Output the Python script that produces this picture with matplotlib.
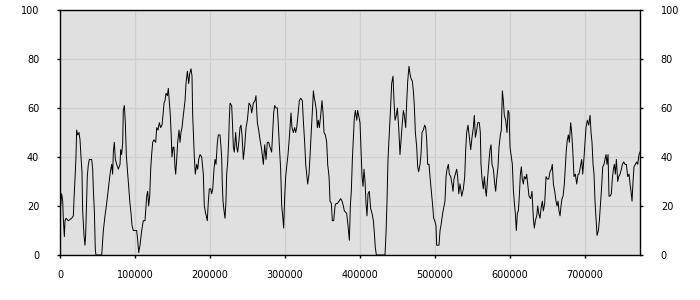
import numpy as np
import matplotlib
matplotlib.use('Agg')
import matplotlib.pyplot as plt

# sample positions (in thousands) and values
seg1_x = [0, 0.9, 2.2, 3.6, 4.4, 5.8, 6.7, 8, 11.1, 15.6,
          17.8, 18.7, 20, 21.3, 22.2, 23.6, 25.3, 26.7, 28, 29.3,
          30.2, 32, 33.3, 34.2, 35.6, 36.4, 37.8, 39.1, 42.2, 43.6,
          44.4, 45.8, 47.1, 48, 55.6, 57.8, 60, 62.2, 64.4, 66.7,
          68.9, 70.2, 71.1, 72.4, 73.8, 75.6, 77.8, 80, 80.9, 82.2,
          83.6, 84.4, 85.8, 87.1, 88.4, 89.8, 91.6, 93.3, 94.7, 96,
          97.8, 102.2, 103.6, 104.9, 106.7, 108.9, 111.1, 113.3, 114.7, 115.6,
          116.9, 118.2, 119.6, 120.9, 122.2, 123.6, 125.3, 127.6, 128.9, 130.7,
          132.4, 134.2, 136, 137.3, 138.7, 140, 141.3, 143.1, 144.4, 145.8,
          147.1, 148.4, 149.3, 150.7, 152, 153.3, 154.2, 155.6, 156.9, 158.7,
          160, 161.3, 162.7, 164.4, 166.7, 168, 169.8, 171.6, 172.9, 174.7,
          176, 176.9, 177.8, 179.1, 180.4, 182.2, 183.6, 184.9, 186.7, 188.9,
          191.1, 192.4, 194.2, 196.4, 197.8, 199.1, 200.9, 202.2, 203.6, 205.3,
          206.7, 208, 209.8, 211.1, 213.3, 214.7, 215.6, 216.4, 217.3, 218.7,
          220, 221.3, 222.2, 223.6, 224.9, 225.8]
seg1_y = [24, 20, 25, 22, 15, 7.5, 14, 15, 14, 15,
          16, 23, 31, 40, 51, 49, 50, 47, 40, 34,
          18, 8, 4, 8, 24, 32, 37, 39, 39, 35,
          27, 18, 2, 0, 0, 10, 16, 21, 27, 33,
          37, 33, 42, 46, 39, 37, 35, 37, 43, 41,
          46, 59, 61, 54, 41, 35, 28, 21, 17, 12,
          10, 10, 6, 1, 4, 10, 14, 14, 20, 24,
          26, 20, 24, 35, 41, 46, 47, 46, 52, 51,
          54, 52, 53, 57, 62, 63, 66, 65, 68, 62,
          57, 48, 40, 44, 44, 36, 33, 39, 46, 51,
          46, 50, 52, 57, 63, 70, 75, 70, 74, 76,
          73, 57, 50, 40, 33, 37, 35, 39, 41, 40,
          33, 20, 17, 14, 22, 27, 27, 25, 27, 35,
          39, 37, 46, 49, 49, 44, 39, 29, 22, 18,
          15, 22, 33, 38, 47, 56]

seg2_x = [226.7, 228.9, 230.2, 231.1, 232.4, 234.2, 235.6, 236.9, 238.7, 240,
          241.3, 242.7, 244.4, 246.2, 248, 249.8, 252, 254.2, 255.6, 257.8,
          260, 261.3, 263.1, 264.9, 266.7, 268.9, 271.1, 272.9, 274.7, 276.4,
          278.2, 280, 282.2, 283.6, 284.9, 286.2, 288, 289.8, 291.1, 292.4,
          294.2, 295.6, 296.9, 298.2, 299.6, 300.9, 302.2, 304, 305.8, 308,
          309.3, 311.1, 312.9, 314.2, 315.6, 317.3, 319.1, 320.9, 323.1, 324.4,
          326.2, 327.6, 328.9, 330.2, 332, 333.3, 335.1, 336.9, 337.8, 339.1,
          340.4, 341.8, 343.1, 344.4, 345.8, 347.6, 349.3, 350.7, 352, 353.8,
          355.6, 356.9, 358.7, 360, 361.8, 363.1, 364.9, 366.7, 368, 369.8,
          372, 374.2, 376, 377.8, 379.1, 382.2, 384, 385.8, 387.1, 388.4,
          389.8, 391.1, 392.4, 393.8, 395.6, 396.9, 398.2, 400, 401.3, 402.7,
          404, 405.3, 406.7, 408, 409.3, 410.7, 412.4, 414.2, 416, 417.8,
          419.1, 420.4, 421.8, 433.3, 434.7, 436, 437.3, 439.1, 440.9, 442.2,
          444, 445.3, 446.7, 448.4, 449.8, 451.6, 453.3, 454.7, 456.4, 457.8,
          459.1, 460.9, 462.2, 463.6, 465.3, 466.7, 468, 469.8, 471.1, 472.4,
          473.8, 475.6, 476.9, 478.2, 480, 481.3, 482.7, 484.4, 486.2, 487.6,
          488.9, 490.2, 492, 493.3, 495.1, 496.9, 498.2, 499.6, 501.3, 502.2,
          505.3, 506.7, 508.4, 510.2, 512, 513.3, 514.7, 516, 517.8, 519.1,
          520.9, 522.7, 524, 525.3, 527.1, 528.9, 530.2, 531.6]
seg2_y = [62, 61, 52, 44, 42, 50, 44, 42, 47, 52,
          53, 49, 39, 44, 52, 55, 62, 61, 58, 62,
          63, 65, 54, 51, 47, 43, 37, 45, 39, 46,
          46, 44, 42, 50, 58, 61, 60, 60, 53, 45,
          35, 20, 16, 11, 24, 32, 36, 41, 48, 58,
          52, 50, 52, 50, 52, 57, 63, 64, 63, 55,
          46, 37, 33, 29, 33, 40, 51, 61, 67, 64,
          62, 59, 52, 55, 52, 57, 63, 58, 50, 49,
          46, 37, 32, 22, 21, 14, 14, 20, 21, 21,
          22, 23, 22, 20, 18, 17, 12, 6, 20, 26,
          39, 48, 56, 59, 55, 59, 57, 54, 43, 32,
          28, 35, 30, 21, 16, 25, 26, 19, 17, 14,
          9, 3, 0, 0, 9, 22, 39, 50, 61, 70,
          73, 63, 55, 57, 60, 52, 41, 47, 54, 59,
          57, 52, 62, 71, 77, 74, 72, 71, 67, 61,
          50, 44, 36, 34, 37, 41, 50, 51, 53, 52,
          47, 37, 37, 32, 26, 20, 15, 14, 12, 4,
          4, 10, 13, 17, 20, 22, 32, 35, 37, 33,
          32, 29, 26, 31, 33, 35, 32, 25]

seg3_x = [533.3, 535.6, 537.8, 539.6, 540.9, 542.2, 544, 545.8, 547.6, 549.3,
          551.1, 552.4, 553.8, 555.1, 556.9, 559.1, 560.4, 561.3, 562.7, 564.4,
          565.8, 567.1, 568.4, 569.8, 571.6, 573.3, 574.7, 576, 577.8, 579.6,
          580.9, 582.2, 584, 585.3, 587.1, 588.4, 589.8, 591.1, 592.4, 594.2,
          596, 597.3, 598.7, 600, 601.3, 603.1, 604.4, 605.8, 607.1, 608.4,
          609.8, 611.1, 612.4, 613.8, 615.1, 616.4, 617.8, 619.1, 620.9, 622.2,
          624, 625.3, 627.6, 629.3, 631.1, 632.4, 633.8, 635.6, 636.9, 638.2,
          640, 641.3, 643.1, 644.4, 646.2, 648, 649.8, 651.6, 653.3, 655.1,
          656.4, 657.8, 659.6, 661.3, 662.7, 664, 665.3, 666.7, 668, 669.3,
          670.7, 672.4, 673.8, 675.1, 676.4, 677.8, 679.1, 680.9, 682.2, 683.6,
          685.3, 687.1, 688.9, 690.7, 692, 693.8, 695.6, 696.9, 698.7, 700,
          701.3, 703.1, 704.9, 706.7, 708, 709.3, 710.7, 712, 713.3, 714.7,
          716, 717.8, 719.1, 720.9, 722.2, 723.6, 725.3, 726.7, 728, 729.3,
          730.7, 732, 733.3, 735.1, 736.4, 737.8, 739.1, 740.4, 741.8, 743.6,
          744.9, 746.7, 748.4, 749.8, 751.6, 753.3, 755.1, 756.9, 758.7, 760,
          761.3, 762.7, 764, 765.3, 767.1, 768.9, 770.2, 772, 773.3]
seg3_y = [29, 24, 27, 32, 43, 50, 53, 48, 43, 48,
          52, 57, 48, 50, 54, 54, 50, 37, 31, 27,
          32, 27, 24, 30, 37, 43, 45, 37, 35, 29,
          26, 31, 36, 44, 49, 51, 67, 63, 57, 55,
          50, 59, 58, 44, 41, 37, 27, 21, 17, 10,
          17, 18, 24, 33, 36, 31, 29, 32, 31, 33,
          28, 24, 23, 26, 15, 11, 14, 16, 20, 17,
          15, 19, 22, 18, 21, 32, 31, 31, 34, 35,
          37, 29, 26, 22, 20, 22, 18, 16, 20, 23,
          24, 29, 36, 43, 47, 49, 46, 54, 50, 43,
          32, 33, 29, 33, 33, 36, 39, 33, 40, 46,
          52, 55, 53, 57, 50, 46, 37, 33, 22, 15,
          8, 10, 14, 22, 28, 36, 37, 39, 41, 37,
          41, 24, 24, 25, 31, 35, 37, 33, 39, 30,
          32, 33, 35, 37, 38, 37, 37, 32, 33, 29,
          26, 22, 30, 36, 37, 38, 37, 41, 42]

x = np.concatenate([seg1_x, seg2_x, seg3_x]) * 1000
y = np.concatenate([seg1_y, seg2_y, seg3_y])

fig = plt.figure(figsize=(7, 3), dpi=100)
ax = fig.add_axes([60 / 700, 45 / 300, 580 / 700, 245 / 300])
ax.set_facecolor('#e0e0e0')
ax.plot(x, y, color='black', linewidth=0.7)

ax.set_xlim(0, x[-1])
ax.set_ylim(0, 100)
ax.set_xticks(np.arange(0, 800000, 100000))
ax.set_yticks(np.arange(0, 101, 20))
ax.grid(True, color='#cfcfcf', linewidth=0.9)
ax.set_axisbelow(True)

for s in ax.spines.values():
    s.set_color('black')
    s.set_linewidth(1)

ax.tick_params(axis='both', direction='out', length=2, width=1, labelsize=7, colors='black')
ax.tick_params(axis='y', left=True, right=True, labelleft=True, labelright=True, pad=13)
ax.tick_params(axis='x', pad=9)

fig.savefig('out.png', dpi=100)
